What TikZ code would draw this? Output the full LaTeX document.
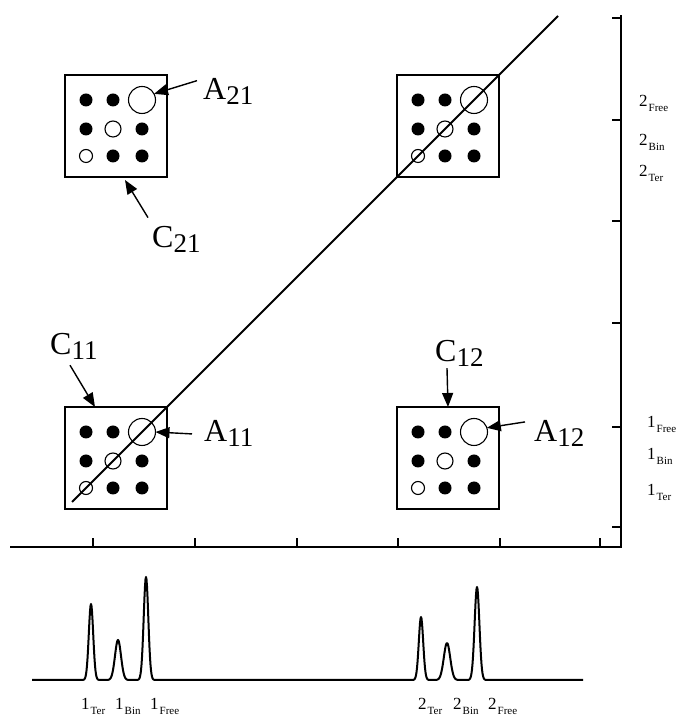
\documentclass[tikz,border=0pt]{standalone}
\usepackage{fontspec}
\setmainfont{Liberation Serif}
\usepackage{tikz}
\usetikzlibrary{arrows.meta}
\newcommand{\bigtag}[2]{#1\raisebox{-5pt}{\fontsize{27}{27}\selectfont #2}}
\newcommand{\peaktag}[2]{#1\kern1pt\raisebox{-4.5pt}{\fontsize{11}{11}\selectfont #2}}
\tikzset{
  corframe/.style={draw,line width=1.3pt,minimum size=102pt,inner sep=0pt,outer sep=0pt},
  corbig/.style={circle,draw,line width=1.1pt,minimum size=27pt,inner sep=0pt,outer sep=0pt},
  corflow/.style={-{Triangle[length=14pt,width=11pt]},line width=1.4pt},
  corlabel/.style={font=\fontsize{32}{32}\selectfont,inner sep=1pt,anchor=base west},
  corpeak/.style={font=\fontsize{17}{17}\selectfont,inner sep=0pt,anchor=base west},
  coraxis/.style={line width=1.8pt},
  corspec/.style={line width=2pt,line join=round},
  corcell/.pic={
    \node[corframe,anchor=south west] (-box) at (0,0) {};
    \foreach \p in {(21,77),(48,77),(21,48),(77,48),(48,21),(77,21)}
      \fill \p circle (6.5);
    \draw[line width=1.1pt] (21,21) circle (6.5) (48,48) circle (8);
    \node[corbig] (-big) at (77,77) {};
  },
}
\begin{document}
\begin{tikzpicture}[x=1pt,y=1pt]
\useasboundingbox (0,0) rectangle (677,717);
% axes
\draw[coraxis] (10,170) -- (621,170) -- (621,702);
\foreach \x in {93,195,297,398,500,600} \draw[coraxis] (\x,170) -- ++(0,9);
\foreach \y in {699,597,496,394,290,190} \draw[coraxis] (621,\y) -- ++(-9,0);
% cells
\pic (tl) at (65,540) {corcell};
\pic (tr) at (397,540) {corcell};
\pic (bl) at (65,208) {corcell};
\pic (br) at (397,208) {corcell};
\draw[coraxis] (72,215) -- (558,701);
% callouts
\node[corlabel] (A21) at (202,617) {\bigtag{A}{21}};
\node[corlabel] (C21) at (151,469) {\bigtag{C}{21}};
\node[corlabel] (C11) at (49,362) {\bigtag{C}{11}};
\node[corlabel] (A11) at (203,275) {\bigtag{A}{11}};
\node[corlabel] (C12) at (434,355) {\bigtag{C}{12}};
\node[corlabel] (A12) at (533,275) {\bigtag{A}{12}};
\draw[corflow] ([shift={(-5pt,-3pt)}]A21.north west) -- (tl-big.27);
\draw[corflow] ([shift={(-3pt,8pt)}]C21.north west) -- ([shift={(60pt,-3pt)}]tl-box.south west);
\draw[corflow] ([shift={(21pt,-4pt)}]C11.south west) -- ([xshift=30pt]bl-box.north west);
\draw[corflow] ([xshift=-11pt]A11.west) -- (bl-big.east);
\draw[corflow] ([xshift=13pt]C12.south west) -- (br-box.north);
\draw[corflow] ([shift={(-8pt,12pt)}]A12.west) -- (br-big.18);
% axis labels
\node[corpeak] (r2free) at (639,610) {\peaktag{2}{Free}};
\node[corpeak] (r2bin) at (639,571) {\peaktag{2}{Bin}};
\node[corpeak] (r2ter) at (639,540) {\peaktag{2}{Ter}};
\node[corpeak] (r1free) at (647,289) {\peaktag{1}{Free}};
\node[corpeak] (r1bin) at (647,257) {\peaktag{1}{Bin}};
\node[corpeak] (r1ter) at (647,221) {\peaktag{1}{Ter}};
% spectrum
\draw[corspec] (32,37)
  \foreach \c/\h/\s in {91/76/2.2,118/40/3.0,146/103/2.3,421/63/2.2,447/37/3.2,477/93/2.4}{
    -- plot[domain=\c-13:\c+13,samples=53] (\x,{37+\h*exp(-0.5*((\x-\c)/\s)^2)})
  } -- (583,37);
\node[corpeak] (b1ter) at (81,7) {\peaktag{1}{Ter}};
\node[corpeak] (b1bin) at (115,7) {\peaktag{1}{Bin}};
\node[corpeak] (b1free) at (150,7) {\peaktag{1}{Free}};
\node[corpeak] (b2ter) at (418,7) {\peaktag{2}{Ter}};
\node[corpeak] (b2bin) at (453,7) {\peaktag{2}{Bin}};
\node[corpeak] (b2free) at (488,7) {\peaktag{2}{Free}};
\end{tikzpicture}
\end{document}
